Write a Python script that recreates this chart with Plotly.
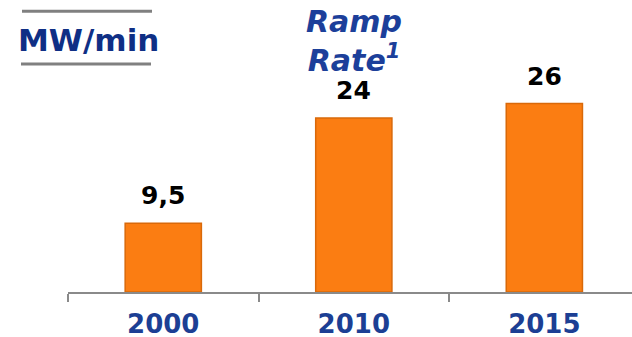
import plotly.graph_objects as go

years = ["2000", "2010", "2015"]
ramp_rate = [9.5, 24, 26]
value_labels = ["9,5", "24", "26"]

fig = go.Figure()
fig.add_trace(go.Bar(
    x=years, y=ramp_rate, width=0.4,
    marker=dict(color="#fb7d12", line=dict(color="#d9690a", width=1.5)),
))

annotations = [
    dict(x=i, y=v, xref="x", yref="y", text=lab, showarrow=False,
         xanchor="center", yanchor="bottom", yshift=11,
         font=dict(family="DejaVu Sans", size=25, color="#000000", weight="bold"))
    for i, (v, lab) in enumerate(zip(ramp_rate, value_labels))
]
annotations += [
    dict(text="MW/min", xref="paper", yref="paper", x=88/632, y=(337-46)/337,
         xanchor="center", yanchor="middle", showarrow=False,
         font=dict(family="DejaVu Sans", size=31, color="#0f2f85", weight="bold")),
    dict(text="<i>Ramp<br>Rate<sup>1</sup></i>", xref="paper", yref="paper",
         x=354/632, y=(337-47)/337, xanchor="center", yanchor="middle", showarrow=False,
         font=dict(family="DejaVu Sans", size=30, color="#1c3f9a", weight="bold")),
]

fig.update_layout(
    width=632, height=337,
    margin=dict(l=0, r=0, t=0, b=45),
    paper_bgcolor="white", plot_bgcolor="white",
    showlegend=False,
    font=dict(family="DejaVu Sans"),
    xaxis=dict(
        type="category", automargin=False,
        domain=[68/632, 1], range=[-0.5, 2.46],
        showline=True, linecolor="#8a8a8a", linewidth=2,
        ticks="outside", tickson="boundaries", ticklen=8, tickcolor="#8a8a8a", tickwidth=2,
        tickfont=dict(family="DejaVu Sans", size=26, color="#1c3f94", weight="bold"),
        ticklabelstandoff=8, showgrid=False,
    ),
    yaxis=dict(range=[0, 40.3], visible=False, showgrid=False),
    annotations=annotations,
    shapes=[
        dict(type="line", xref="paper", yref="paper", x0=22/632, x1=152/632,
             y0=(337-13)/337, y1=(337-13)/337, line=dict(color="#808080", width=3)),
        dict(type="line", xref="paper", yref="paper", x0=21/632, x1=151/632,
             y0=(337-74)/337, y1=(337-74)/337, line=dict(color="#808080", width=3)),
    ],
)

fig.write_html("out.html")
